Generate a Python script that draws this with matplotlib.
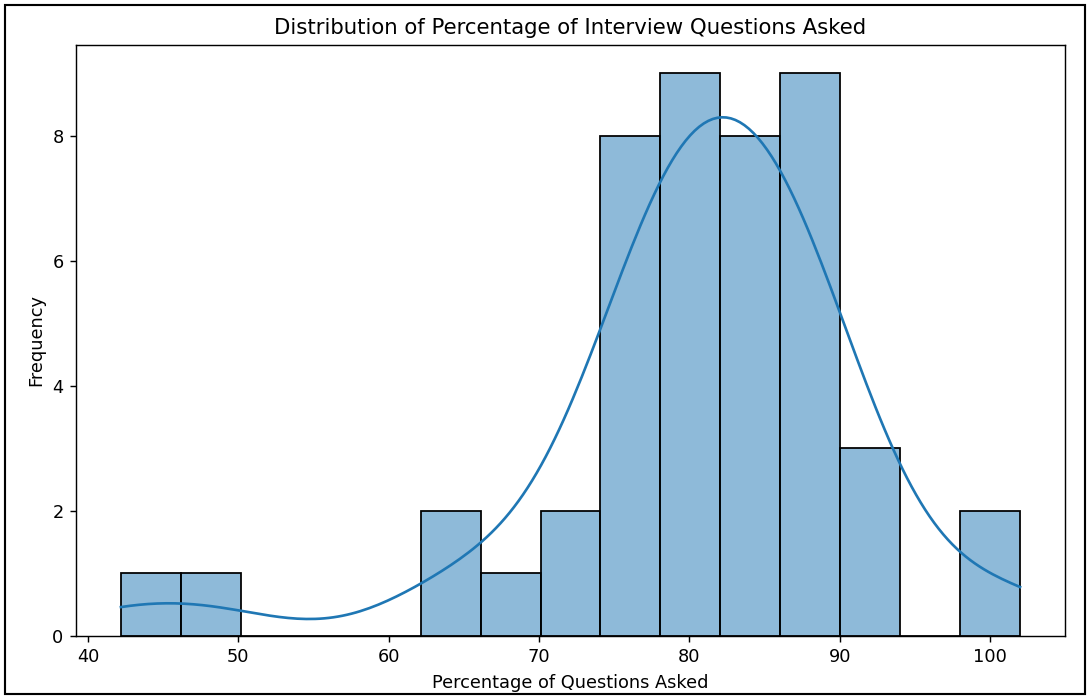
import matplotlib
matplotlib.use("Agg")
import matplotlib.pyplot as plt
import matplotlib.patches as mpatches
import seaborn as sns
import numpy as np

# Percentage of interview questions asked (one value per interview)
percent_asked = [
    42.2,
    48.5,
    63.6, 65.0,
    68.6,
    72.0, 73.3,
    75.2, 75.6, 76.3, 76.7, 77.1, 77.4, 77.7, 77.9,
    78.6, 79.2, 79.5, 80.0, 80.0, 80.6, 81.0, 81.3, 81.8,
    82.4, 83.0, 83.3, 83.3, 84.0, 84.3, 84.6, 85.2,
    86.4, 86.7, 87.0, 87.3, 87.5, 87.8, 88.2, 88.5, 88.9,
    90.7, 91.5, 92.8,
    100.0, 102.0,
]
n_bins = 15
title = "Distribution of Percentage of Interview Questions Asked"
xlabel = "Percentage of Questions Asked"
ylabel = "Frequency"

W, H = 1089, 698
DPI = 127.7
fig = plt.figure(figsize=(W / DPI, H / DPI), dpi=DPI)
ax = fig.add_axes([76 / W, 1 - 636 / H, (1065 - 76) / W, (636 - 45) / H])

sns.histplot(x=np.array(percent_asked), bins=n_bins, kde=True, color="#1f77b4",
             edgecolor="black", ax=ax)

ax.set_title(title, fontsize=12)
ax.set_xlabel(xlabel)
ax.set_ylabel(ylabel)

fig.patches.append(mpatches.Rectangle((5 / W, 1 - 694 / H), 1080 / W, 689 / H,
                                      transform=fig.transFigure, fill=False,
                                      edgecolor="black", linewidth=1.2))

fig.savefig("out.png", dpi=DPI)
